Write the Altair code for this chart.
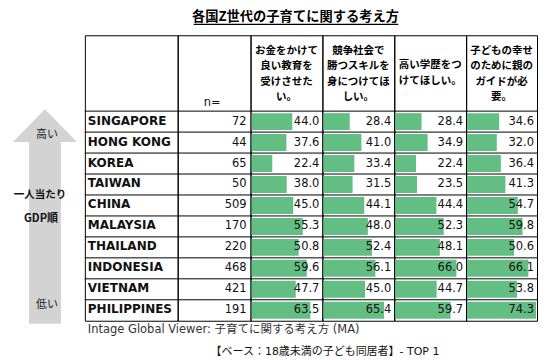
import altair as alt
import pandas as pd

# ---------------- data ----------------
countries = ["SINGAPORE", "HONG KONG", "KOREA", "TAIWAN", "CHINA",
             "MALAYSIA", "THAILAND", "INDONESIA", "VIETNAM", "PHILIPPINES"]
n_values = [72, 44, 65, 50, 509, 170, 220, 468, 421, 191]
q1 = [44.0, 37.6, 22.4, 38.0, 45.0, 55.3, 50.8, 59.6, 47.7, 63.5]
q2 = [28.4, 41.0, 33.4, 31.5, 44.1, 48.0, 52.4, 56.1, 45.0, 65.4]
q3 = [28.4, 34.9, 22.4, 23.5, 44.4, 52.3, 48.1, 66.0, 44.7, 59.7]
q4 = [34.6, 32.0, 36.4, 41.3, 54.7, 59.8, 50.6, 66.1, 53.8, 74.3]
q_headers = [
    ["お金をかけて", "良い教育を", "受けさせた", "い。"],
    ["競争社会で", "勝つスキルを", "身につけてほ", "しい。"],
    ["高い学歴をつ", "けてほしい。"],
    ["子どもの幸せ", "のために親の", "ガイドが必", "要。"],
]
n_header = "n="
title_text = "各国Z世代の子育てに関する考え方"
footer1 = "Intage Global Viewer: 子育てに関する考え方 (MA)"
footer2 = "【ベース：18歳未満の子ども同居者】- TOP 1"
arrow_top = "高い"
arrow_bottom = "低い"
arrow_mid = ["一人当たり", "GDP順"]

# ---------------- layout constants ----------------
LEFT_W, COUNTRY_W, N_W = 76, 93, 73
Q_WS = [72, 72, 72, 71]
HEADER_H, BODY_H = 76, 210
COL_H = HEADER_H + BODY_H
LINE_H = 15.5
GREEN = "#63BE84"
LATIN = "DejaVu Sans"
JP = "Noto Sans CJK JP"
MIXED = f"{LATIN}, {JP}"
NOSTROKE = alt.ViewBackground(stroke="transparent")

df = pd.DataFrame({"country": countries, "n": n_values,
                   "q1": q1, "q2": q2, "q3": q3, "q4": q4})
qcols = ["q1", "q2", "q3", "q4"]

yscale = alt.Scale(domain=countries, range=[HEADER_H, COL_H],
                   paddingInner=0, paddingOuter=0)
Y = alt.Y("country:N", scale=yscale, axis=None)
one = pd.DataFrame({"k": [0]})


def row_rules():
    return alt.Chart(df).mark_rule(color="black", strokeWidth=1).encode(
        y=alt.Y("country:N", scale=yscale, axis=None, bandPosition=0))


def label(text, x, y, size, weight="normal", color="#111", align="center", font=JP):
    return alt.Chart(one).mark_text(font=font, fontSize=size, fontWeight=weight,
                                    color=color, align=align, baseline="middle").encode(
        text=alt.value(text), x=alt.value(x), y=alt.value(y))


# ---------------- left column: arrow, title, footers ----------------
arrow_path = ("M0,-1 L0.298,-0.693 L0.149,-0.693 L0.149,1 L-0.149,1 "
              "L-0.149,-0.693 L-0.298,-0.693 Z")
left_panel = alt.layer(
    # invisible pin that fixes the top-left corner of the drawing
    alt.Chart(one).mark_rect(opacity=0).encode(
        x=alt.value(-0.5), x2=alt.value(0), y=alt.value(-26), y2=alt.value(-25.5)),
    alt.Chart(one).mark_point(shape=arrow_path, filled=True, color="#D3D3D3",
                              opacity=1, strokeWidth=0).encode(
        x=alt.value(36), y=alt.value(181.5), size=alt.value(215 * 215)),
    label(arrow_top, 38, 100, 11, color="#222"),
    label(arrow_bottom, 38, 270, 11, color="#222"),
    label(arrow_mid[0], 31, 160, 10.5, weight="bold"),
    label(arrow_mid[1], 32, 184, 11, weight="bold"),
    # title with underline
    label(title_text, 287, -18, 13.3, weight="bold", color="black"),
    alt.Chart(one).mark_rule(color="black", strokeWidth=1.2).encode(
        x=alt.value(185), x2=alt.value(390), y=alt.value(-11)),
    # footers
    label(footer1, 79, 295, 11.5, color="#333", align="left", font=MIXED),
    label(footer2, 202, 317, 11, color="#111", align="left", font=MIXED),
).properties(width=LEFT_W, height=COL_H, view=NOSTROKE)

# ---------------- country column ----------------
country_panel = alt.layer(
    row_rules(),
    alt.Chart(df).mark_text(font=LATIN, fontSize=12, fontWeight="bold", color="#111",
                            align="left", baseline="middle", dy=-1).encode(
        x=alt.value(3), y=Y, text="country:N"),
).properties(width=COUNTRY_W, height=COL_H)

# ---------------- n column ----------------
n_panel = alt.layer(
    row_rules(),
    label(n_header, N_W / 2 - 2, 68, 11.5, font=LATIN),
    alt.Chart(df).mark_text(font=LATIN, fontSize=11.5, color="#111",
                            align="right", baseline="middle").encode(
        x=alt.value(N_W - 4), y=Y, text="n:Q"),
).properties(width=N_W, height=COL_H)

# ---------------- question columns ----------------
cols = [left_panel, country_panel, n_panel]
for q, w, lines in zip(qcols, Q_WS, q_headers):
    xs = alt.Scale(domain=[0, 76.5], range=[1, 72])
    hd = pd.DataFrame({"t": ["\n".join(lines)]})
    centre = 39 if len(lines) > 2 else 38
    first_y = centre - (len(lines) - 1) * LINE_H / 2
    cols.append(alt.layer(
        alt.Chart(hd).mark_text(font=JP, fontSize=10.5, fontWeight="bold",
                                color="black", align="center", baseline="middle",
                                lineBreak="\n", lineHeight=LINE_H).encode(
            text="t:N", x=alt.value(w / 2), y=alt.value(first_y)),
        alt.Chart(df).mark_bar(color=GREEN, height=17).encode(
            x=alt.X(f"{q}:Q", scale=xs, axis=None), y=Y),
        row_rules(),
        alt.Chart(df).mark_text(font=LATIN, fontSize=11.5, color="#111",
                                align="right", baseline="middle").encode(
            x=alt.value(w - 3), y=Y, text=alt.Text(f"{q}:Q", format=".1f")),
    ).properties(width=w, height=COL_H))

chart = alt.hconcat(*cols, spacing=0, bounds="flush").properties(
    padding=0,
    background="white",
).configure_view(stroke="black", strokeWidth=1)

chart.save("out.html", embed_options={"renderer": "svg", "actions": False})
